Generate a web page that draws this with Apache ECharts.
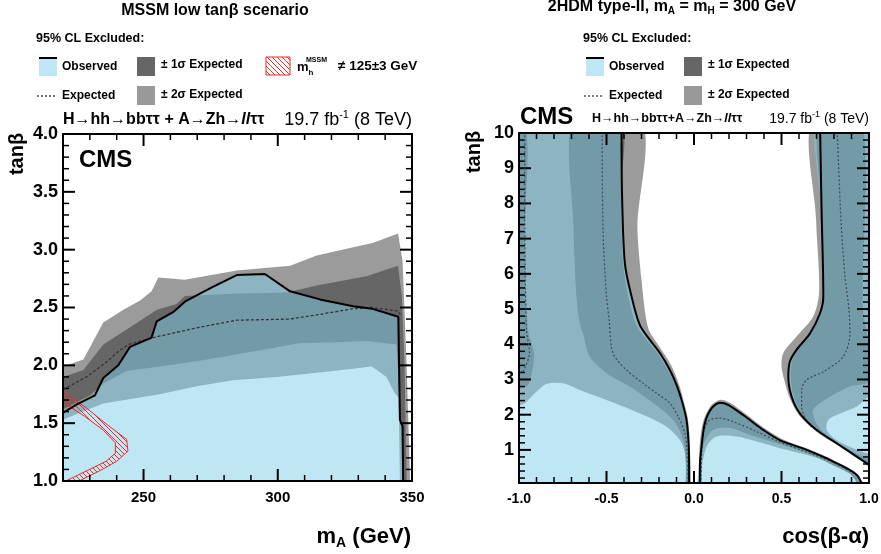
<!DOCTYPE html>
<html>
<head>
<meta charset="utf-8">
<title>CMS H->hh, A->Zh exclusion</title>
<script src="https://cdn.jsdelivr.net/npm/echarts@6/dist/echarts.min.js"></script>
<style>
  html, body { margin: 0; padding: 0; background: #fff; }
  #main { width: 881px; height: 554px; }
</style>
</head>
<body>
<div id="main"></div>
<script>
// ---- tick labels and tick positions ----
var mALabels = [250, 300, 350];
var tanbLLabels = [1.0, 1.5, 2.0, 2.5, 3.0, 3.5, 4.0];
var cbaLabels = [-1.0, -0.5, 0.0, 0.5, 1.0];
var tanbRLabels = [1, 2, 3, 4, 5, 6, 7, 8, 9, 10];

var mAMinor = [230, 240, 260, 270, 280, 290, 310, 320, 330, 340];
var mAMajor = [250, 300];
var tanbLMinor = [1.1, 1.2, 1.3, 1.4, 1.6, 1.7, 1.8, 1.9, 2.1, 2.2, 2.3, 2.4, 2.6, 2.7, 2.8, 2.9,
  3.1, 3.2, 3.3, 3.4, 3.6, 3.7, 3.8, 3.9];
var tanbLMajor = [1.5, 2.0, 2.5, 3.0, 3.5];
var cbaMinor = [-0.9, -0.8, -0.7, -0.6, -0.4, -0.3, -0.2, -0.1, 0.1, 0.2, 0.3, 0.4, 0.6, 0.7, 0.8, 0.9];
var cbaMajor = [-0.5, 0.0, 0.5];
var tanbRMinor = [0.2, 0.4, 0.6, 0.8, 1.2, 1.4, 1.6, 1.8, 2.2, 2.4, 2.6, 2.8, 3.2, 3.4, 3.6, 3.8,
  4.2, 4.4, 4.6, 4.8, 5.2, 5.4, 5.6, 5.8, 6.2, 6.4, 6.6, 6.8, 7.2, 7.4, 7.6, 7.8,
  8.2, 8.4, 8.6, 8.8, 9.2, 9.4, 9.6, 9.8];
var tanbRMajor = [1, 2, 3, 4, 5, 6, 7, 8, 9];

// ---- left panel: MSSM low tanb, x = mA (GeV), y = tanb ----
var obsL = [[220,1.59],[225,1.66],[231.9,1.74],[235,1.89],[240.6,2.0],[245,2.16],[253,2.24],[254.9,2.38],
  [261,2.46],[265.4,2.55],[271,2.62],[276,2.68],[284.7,2.78],[295.2,2.79],[304.6,2.64],[315.7,2.57],
  [328.1,2.51],[335,2.49],[344.9,2.42],[345.5,1.53],[346.5,1.47],[346.7,1.0]];
var expL = [[220,1.79],[228.8,1.90],[236.3,2.03],[241.2,2.13],[244.3,2.18],[253.6,2.24],[271,2.33],
  [284.7,2.39],[304.6,2.40],[315.7,2.44],[328.1,2.49],[335,2.50],[344.8,2.47],[345.6,2.44]];
var up2L = [[220,1.99],[227.6,2.05],[235,2.37],[242.5,2.48],[248.7,2.56],[253,2.64],[255.5,2.76],
  [265.4,2.74],[284.7,2.82],[304.6,2.86],[314.5,2.95],[335.6,3.06],[344.8,3.14],[346.5,2.9],[348,2.0],[349.3,1.0]];
var lo2L = [[220,1.53],[226.3,1.59],[235,1.67],[256,1.75],[269.8,1.82],[283.4,1.87],[299.5,1.90],
  [320.7,1.95],[335,1.99],[340.5,1.9],[343.5,1.76],[345,1.72],[345.5,1.0]];
var up1L = [[220,1.90],[227.6,1.96],[235,2.18],[243.7,2.31],[255,2.48],[262.3,2.53],[265.4,2.60],
  [285,2.62],[303.3,2.63],[314.5,2.69],[333,2.77],[344.8,2.86],[346.2,2.6],[347.2,2.0],[348,1.0]];
var lo1L = [[220,1.62],[230,1.74],[235,1.84],[243.7,1.95],[256,1.99],[271,2.04],[283.4,2.09],
  [308,2.19],[320.7,2.2],[333,2.21],[344.2,2.18],[345.8,1.5],[346.5,1.0]];
var mhOuter = [[220,1.77],[228.8,1.63],[236.3,1.49],[243.7,1.36],[244.2,1.26],[240,1.17],[233.8,1.09],[226,1.0]];
var mhInner = [[220,1.68],[228,1.56],[235,1.44],[239.5,1.33],[239.5,1.24],[236,1.17],[229,1.09],[221,1.0]];

// ---- right panel: 2HDM type-II, x = cos(b-a), y = tanb ----
var obsR1 = [[-0.414,10.5],[-0.414,10],[-0.411,8.2],[-0.395,6.3],[-0.357,5.36],[-0.31,4.55],[-0.253,4.13],
  [-0.195,3.75],[-0.138,3.27],[-0.096,2.80],[-0.066,2.33],[-0.043,1.85],[-0.031,1.19],[-0.028,0.5],[-0.028,-0.2]];
var expR1 = [[-0.525,10.5],[-0.52,7.25],[-0.5,5.36],[-0.485,4.69],[-0.472,3.93],[-0.453,3.65],[-0.386,3.27],
  [-0.291,2.89],[-0.214,2.61],[-0.138,2.33],[-0.091,1.95],[-0.052,1.47],[-0.039,0.91],[-0.033,-0.2]];
var up2R1 = [[-0.325,10.5],[-0.323,7.25],[-0.30,5.83],[-0.262,4.46],[-0.2,3.95],[-0.13,3.4],[-0.085,2.85],
  [-0.056,2.33],[-0.034,1.85],[-0.024,1.19],[-0.021,-0.2]];
var lo2R1 = [[-1.2,2.28],[-0.986,2.28],[-0.9,2.66],[-0.843,2.875],[-0.748,2.89],[-0.653,2.70],[-0.5,2.42],
  [-0.31,2.04],[-0.157,1.66],[-0.081,1.28],[-0.052,0.91],[-0.039,0.15],[-0.04,-0.2]];
var up1R1 = [[-0.42,10.5],[-0.418,8.2],[-0.405,6.3],[-0.375,5.36],[-0.33,4.55],[-0.27,4.13],[-0.21,3.75],
  [-0.15,3.27],[-0.103,2.80],[-0.072,2.33],[-0.048,1.85],[-0.036,1.19],[-0.032,-0.2]];
var lo1R1 = [[-0.69,10.5],[-0.688,7.25],[-0.672,5.36],[-0.653,4.6],[-0.634,4.3],[-0.596,3.65],[-0.5,3.18],
  [-0.367,2.80],[-0.234,2.33],[-0.119,1.85],[-0.062,1.28],[-0.047,0.6],[-0.046,-0.2]];
var edge1R = [[-1.2,10.5],[-0.975,10.5],[-0.968,7],[-0.95,4.46],[-0.915,3.75],[-0.93,3.1],[-0.96,2.8],[-1.2,2.72]];
var edgeExpR = [[-0.967,10.5],[-0.967,8.2],[-0.958,4.46],[-0.94,3.75],[-0.965,3.35],[-0.985,3.2],[-1.05,3.15]];

var obsR2 = [[0.033,-0.2],[0.034,0.6],[0.043,1.09],[0.062,1.76],[0.10,2.18],[0.148,2.34],[0.195,2.28],
  [0.281,1.99],[0.395,1.57],[0.49,1.28],[0.644,1.0],[0.796,0.67],[0.93,0.29],[0.975,-0.2]];
var expR2 = [[0.038,-0.2],[0.045,1.0],[0.052,1.47],[0.09,1.85],[0.148,1.90],[0.224,1.80],[0.358,1.52],
  [0.481,1.24],[0.62,0.98],[0.8,0.64],[0.93,0.28]];
var up2R2 = [[0.028,-0.2],[0.032,1.1],[0.052,1.8],[0.095,2.25],[0.148,2.42],[0.2,2.35],[0.29,2.04],
  [0.4,1.62],[0.5,1.32],[0.65,1.03],[0.8,0.7],[0.935,0.31],[0.985,-0.2]];
var lo2R2 = [[0.04,-0.2],[0.043,0.43],[0.072,1.09],[0.129,1.38],[0.243,1.38],[0.358,1.24],[0.49,1.05],
  [0.644,0.86],[0.833,0.53],[0.95,0.2],[0.97,-0.2]];
var up1R2 = [[0.034,-0.2],[0.037,0.6],[0.045,1.09],[0.064,1.76],[0.10,2.16],[0.148,2.32],[0.195,2.26],
  [0.281,1.97],[0.395,1.55],[0.49,1.26],[0.644,0.98],[0.796,0.65],[0.93,0.27],[0.972,-0.2]];
var lo1R2 = [[0.042,-0.2],[0.052,1.09],[0.11,1.57],[0.205,1.62],[0.319,1.43],[0.472,1.19],[0.644,0.92],
  [0.8,0.55],[0.9,0.28],[0.96,-0.2]];

var obsR3 = [[0.719,10.5],[0.729,7.82],[0.739,5.36],[0.72,4.88],[0.663,4.31],[0.586,3.84],[0.548,3.51],
  [0.539,3.08],[0.558,2.51],[0.605,2.04],[0.70,1.57],[0.815,1.19],[0.93,0.81],[1.2,-0.08]];
var expR3 = [[0.815,10.5],[0.84,7.5],[0.863,5.92],[0.885,5.0],[0.891,4.31],[0.853,3.65],[0.739,3.22],
  [0.644,2.99],[0.615,2.70],[0.615,2.23],[0.653,1.76],[0.72,1.49],[0.8,1.25]];
var up2R3 = [[0.69,10.5],[0.698,7.5],[0.715,5.5],[0.681,4.79],[0.586,4.22],[0.51,3.75],[0.50,3.37],
  [0.515,3.0],[0.545,2.5],[0.595,2.02],[0.695,1.54],[0.812,1.16],[0.93,0.77],[1.2,-0.12]];
var lo2R3 = [[1.2,0.75],[1.0,0.9],[0.93,1.0],[0.815,1.28],[0.758,1.57],[0.767,1.85],[0.815,1.99],
  [0.93,2.23],[1.0,2.5],[1.2,2.8],[1.2,10.5]];
var up1R3 = [[0.719,10.5],[0.729,7.82],[0.739,5.36],[0.725,4.9],[0.67,4.3],[0.595,3.84],[0.56,3.51],
  [0.552,3.08],[0.57,2.51],[0.615,2.04],[0.71,1.57],[0.82,1.2],[0.93,0.83],[1.2,-0.05]];
var lo1R3 = [[1.2,0.6],[1.0,0.75],[0.93,0.9],[0.83,1.15],[0.75,1.45],[0.70,1.75],[0.681,2.14],
  [0.777,2.51],[0.891,2.8],[1.0,2.95],[1.0,4.0],[0.965,5.0],[0.955,10.5]];

// ---- colours ----
var FF = '"Liberation Sans", Arial, sans-serif';
var OBS_FILL = 'rgba(128,205,231,0.5)';
var OBS_SWATCH = '#bfe6f3';
var S1 = '#666666';
var S2 = '#9b9b9b';
var RED = '#ee2b2b';

// hatch pattern for the m_h region
var hatch = document.createElement('canvas');
hatch.width = 5; hatch.height = 5;
(function () {
  var g = hatch.getContext('2d');
  g.strokeStyle = RED; g.lineWidth = 1;
  g.beginPath();
  g.moveTo(0, 0); g.lineTo(5, 5);
  g.moveTo(-1, 4); g.lineTo(1, 6);
  g.moveTo(4, -1); g.lineTo(6, 1);
  g.stroke();
})();
var HATCH_FILL = { image: hatch, repeat: 'repeat' };

function rev(a) { return a.slice().reverse(); }

function poly(pts, ax, style, smooth) {
  return {
    type: 'custom', xAxisIndex: ax, yAxisIndex: ax, silent: true, clip: true,
    data: [pts[0]],
    renderItem: function (params, api) {
      var p = pts.map(function (d) { return api.coord(d); });
      return { type: 'polygon', shape: { points: p, smooth: smooth || 0 }, style: style };
    }
  };
}
function line(pts, ax, color, width, dash, smooth) {
  return {
    type: 'line', xAxisIndex: ax, yAxisIndex: ax, silent: true, symbol: 'none',
    smooth: smooth || false, data: pts,
    lineStyle: { color: color, width: width, type: dash || 'solid' }
  };
}
// one small filled polygon per tick and edge; `edge` is the axis value of that edge,
// `dir` +1/-1 says which way (in pixels) the tick points into the plot
function tickMarks(values, ax, dim, edge, dir, len, w) {
  return values.map(function (v) {
    var at = dim === 'x' ? [v, edge] : [edge, v];
    return {
      type: 'custom', xAxisIndex: ax, yAxisIndex: ax, silent: true, clip: true,
      data: [at],
      renderItem: function (params, api) {
        var p = api.coord(at), h = w / 2, e = dir * len, q;
        if (dim === 'x') q = [[p[0] - h, p[1]], [p[0] + h, p[1]], [p[0] + h, p[1] + e], [p[0] - h, p[1] + e]];
        else q = [[p[0], p[1] - h], [p[0], p[1] + h], [p[0] + e, p[1] + h], [p[0] + e, p[1] - h]];
        return { type: 'polygon', shape: { points: q }, style: { fill: '#000' } };
      }
    };
  });
}

// ---- plot frames ----
var fmt0 = function (v) { return v.toFixed(0); };
var fmt1 = function (v) { return v.toFixed(1); };
function frameAxis(grid, pos, min, max, labels, fmt, fontSize, margin) {
  return {
    type: 'value', gridIndex: grid, position: pos, min: min, max: max, z: 10,
    splitLine: { show: false }, axisTick: { show: false },
    axisLine: { show: true, onZero: false, lineStyle: { color: '#000', width: 2 } },
    axisLabel: labels ? { show: true, customValues: labels, formatter: fmt, color: '#000',
      fontFamily: FF, fontWeight: 'bold', fontSize: fontSize, margin: margin } : { show: false }
  };
}
var xAxes = [
  frameAxis(0, 'bottom', 220, 350, mALabels, fmt0, 15, 9), frameAxis(0, 'top', 220, 350),
  frameAxis(1, 'bottom', -1, 1, cbaLabels, fmt1, 14, 9), frameAxis(1, 'top', -1, 1)
];
var yAxes = [
  frameAxis(0, 'left', 1, 4, tanbLLabels, fmt1, 18, 5), frameAxis(0, 'right', 1, 4),
  frameAxis(1, 'left', 0.06, 10, tanbRLabels, fmt0, 18, 5), frameAxis(1, 'right', 0.06, 10)
];

var L = 0, R = 2;
var series = [
  // left panel
  poly(up2L.concat(rev(lo2L)), L, { fill: S2 }),
  poly(up1L.concat(rev(lo1L)), L, { fill: S1 }),
  poly([[220, 1.0]].concat(obsL), L, { fill: OBS_FILL }),
  poly(mhOuter.concat(rev(mhInner)), L, { fill: HATCH_FILL, stroke: RED, lineWidth: 1 }),
  line(expL, L, '#333', 1.3, [3, 2]),
  line(obsL, L, '#000', 2),
  // right panel
  poly([[-1.2, 10.5]].concat(up2R1, rev(lo2R1)), R, { fill: S2 }, 0.3),
  poly(up2R2.concat(rev(lo2R2)), R, { fill: S2 }, 0.3),
  poly(up2R3.concat(lo2R3), R, { fill: S2 }, 0.3),
  poly(up1R1.concat(rev(lo1R1)), R, { fill: S1 }, 0.3),
  poly(edge1R, R, { fill: S1 }, 0.3),
  poly(up1R2.concat(rev(lo1R2)), R, { fill: S1 }, 0.3),
  poly(up1R3.concat(lo1R3), R, { fill: S1 }, 0.3),
  poly([[-1.2, -0.2], [-1.2, 10.5]].concat(obsR1), R, { fill: OBS_FILL }, 0.3),
  poly(obsR2, R, { fill: OBS_FILL }, 0.3),
  poly(obsR3.concat([[1.2, 10.5]]), R, { fill: OBS_FILL }, 0.3),
  line(expR1, R, '#3d4d52', 1.2, [2, 2], 0.3),
  line(edgeExpR, R, '#3d4d52', 1.2, [2, 2], 0.3),
  line(expR2, R, '#3d4d52', 1.2, [2, 2], 0.3),
  line(expR3, R, '#3d4d52', 1.2, [2, 2], 0.3),
  line(obsR1, R, '#000', 2, null, 0.3),
  line(obsR2, R, '#000', 2, null, 0.3),
  line(obsR3, R, '#000', 2, null, 0.3)
].concat(
  tickMarks(mAMinor, L, 'x', 1, -1, 6, 1.5), tickMarks(mAMinor, L, 'x', 4, 1, 6, 1.5),
  tickMarks(mAMajor, L, 'x', 1, -1, 12, 2), tickMarks(mAMajor, L, 'x', 4, 1, 12, 2),
  tickMarks(tanbLMinor, L, 'y', 220, 1, 6, 1.5), tickMarks(tanbLMinor, L, 'y', 350, -1, 6, 1.5),
  tickMarks(tanbLMajor, L, 'y', 220, 1, 12, 2), tickMarks(tanbLMajor, L, 'y', 350, -1, 12, 2),
  tickMarks(cbaMinor, R, 'x', 0.06, -1, 6, 1.5), tickMarks(cbaMinor, R, 'x', 10, 1, 6, 1.5),
  tickMarks(cbaMajor, R, 'x', 0.06, -1, 12, 2), tickMarks(cbaMajor, R, 'x', 10, 1, 12, 2),
  tickMarks(tanbRMinor, R, 'y', -1, 1, 6, 1.5), tickMarks(tanbRMinor, R, 'y', 1, -1, 6, 1.5),
  tickMarks(tanbRMajor, R, 'y', -1, 1, 12, 2), tickMarks(tanbRMajor, R, 'y', 1, -1, 12, 2)
);

function txt(x, y, s, size, extra, props) {
  var el = {
    type: 'text', x: x, y: y, z: 100,
    style: Object.assign({ text: s, fontSize: size, fontWeight: 'bold', fontFamily: FF, fill: '#000',
      align: 'left', verticalAlign: 'middle' }, extra || {})
  };
  return Object.assign(el, props || {});
}
function rect(x, y, w, h, style) {
  return { type: 'rect', z: 100, shape: { x: x, y: y, width: w, height: h }, style: style };
}
function seg(x1, y1, x2, y2, style) {
  return { type: 'line', z: 100, shape: { x1: x1, y1: y1, x2: x2, y2: y2 }, style: style };
}
function legendBlock(x0) {
  return [
    txt(x0 - 3, 39, '95% CL Excluded:', 12.5),
    rect(x0, 57, 18, 19, { fill: OBS_SWATCH }),
    seg(x0, 58, x0 + 18, 58, { stroke: '#000', lineWidth: 2 }),
    txt(x0 + 23, 67, 'Observed', 12),
    rect(x0 + 98, 57, 18, 19, { fill: '#666' }),
    txt(x0 + 122, 65, '± 1σ Expected', 12),
    seg(x0 - 2, 96, x0 + 18, 96, { stroke: '#333', lineWidth: 1.3, lineDash: [2, 2] }),
    txt(x0 + 23, 96, 'Expected', 12),
    rect(x0 + 98, 86, 18, 19, { fill: '#999' }),
    txt(x0 + 122, 95, '± 2σ Expected', 12)
  ];
}
function procRich(size) {
  return {
    a: { fontSize: size, fontWeight: 'bold', fontFamily: FF, lineHeight: size + 3 },
    i: { fontSize: size, fontWeight: 'bold', fontStyle: 'italic', fontFamily: FF, lineHeight: size + 3 }
  };
}
function lumiRich(size, sup) {
  return {
    a: { fontSize: size, fontFamily: FF, fontWeight: 'normal', lineHeight: size + 4 },
    s: { fontSize: sup, fontFamily: FF, fontWeight: 'normal', lineHeight: sup, verticalAlign: 'top' }
  };
}

var graphics = [].concat(
  // left header
  txt(215, 11, 'MSSM low tanβ scenario', 16, { align: 'center' }),
  legendBlock(39),
  rect(266, 57, 24, 18, { fill: HATCH_FILL, stroke: RED, lineWidth: 1 }),
  txt(297, 67, '{m|m}{s|h}', 12, { rich: {
    m: { fontSize: 13, fontWeight: 'bold', fontFamily: FF, lineHeight: 20 },
    s: { fontSize: 8, fontWeight: 'bold', fontFamily: FF, lineHeight: 10, verticalAlign: 'bottom' } } }),
  txt(306, 60, 'MSSM', 7),
  txt(338, 66, '≠ 125±3 GeV', 13.5),
  txt(63, 120, '{a|H→hh→bbττ + A→Zh→}{i|ll}{a|ττ}', 16, { rich: procRich(16) }),
  txt(412, 120, '{a|19.7 fb}{s|-1}{a| (8 TeV)}', 18, { align: 'right', rich: lumiRich(18, 11) }),
  txt(79, 160, 'CMS', 24),
  txt(17, 154, 'tanβ', 20, { align: 'center' }, { rotation: Math.PI / 2 }),
  txt(411, 537, '{a|m}{s|A}{a| (GeV)}', 22, { align: 'right', rich: {
    a: { fontSize: 22, fontWeight: 'bold', fontFamily: FF, lineHeight: 26 },
    s: { fontSize: 14, fontWeight: 'bold', fontFamily: FF, lineHeight: 14, verticalAlign: 'bottom' } } }),
  // right header
  txt(672, 7, '{a|2HDM type-II, m}{s|A}{a| = m}{s|H}{a| = 300 GeV}', 16, { align: 'center', rich: {
    a: { fontSize: 16, fontWeight: 'bold', fontFamily: FF, lineHeight: 18 },
    s: { fontSize: 10, fontWeight: 'bold', fontFamily: FF, lineHeight: 10, verticalAlign: 'bottom' } } }),
  legendBlock(586),
  txt(520, 117, 'CMS', 24),
  txt(592, 119, '{a|H→hh→bbττ+A→Zh→}{i|ll}{a|ττ}', 12.5, { rich: procRich(12.5) }),
  txt(869, 119, '{a|19.7 fb}{s|-1}{a| (8 TeV)}', 14, { align: 'right', rich: lumiRich(14, 9) }),
  txt(474, 152, 'tanβ', 20, { align: 'center' }, { rotation: Math.PI / 2 }),
  txt(869, 537, 'cos(β-α)', 22, { align: 'right' })
);

var chart = echarts.init(document.getElementById('main'), null, { renderer: 'canvas' });
chart.setOption({
  backgroundColor: '#fff',
  animation: false,
  grid: [
    { left: 63, top: 134, width: 349, height: 347, outerBoundsMode: 'none' },
    { left: 519, top: 133, width: 350, height: 350, outerBoundsMode: 'none' }
  ],
  xAxis: xAxes,
  yAxis: yAxes,
  series: series,
  graphic: { elements: graphics }
});
</script>
</body>
</html>
